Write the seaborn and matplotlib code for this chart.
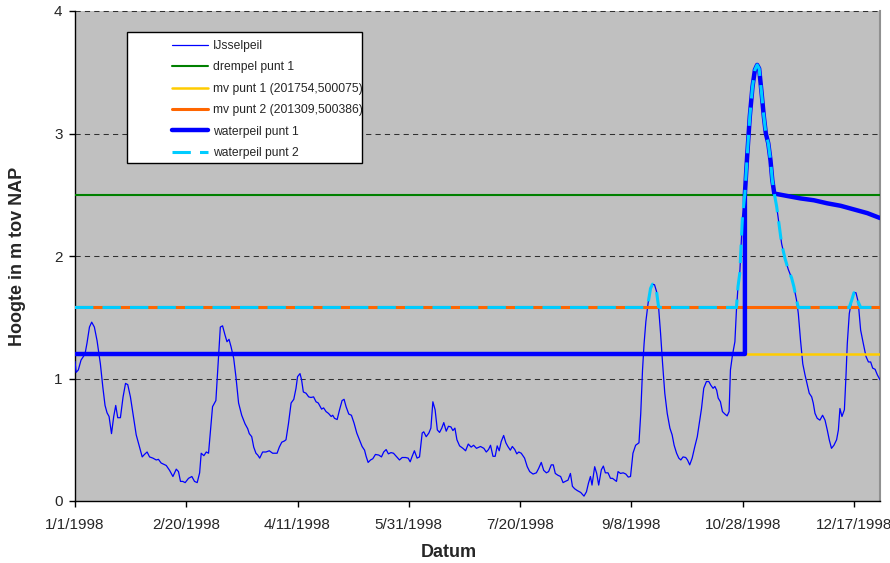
import matplotlib
matplotlib.use('Agg')
import matplotlib.pyplot as plt
from matplotlib.patches import Rectangle
import numpy as np
import seaborn as sns
import pandas as pd

# IJsselpeil (day of 1998, m tov NAP)
ijssel_day = [0, 0.5, 1.5, 2.7, 4.5, 5.4, 6.5, 7.5, 8.7, 9.9, 11.4, 12.5, 13.5, 14.4, 15.3, 16.4, 17.4, 18.3,
              19.2, 20.4, 21.6, 22.7, 23.7, 24.9, 26, 27.5, 29, 30.2, 31.2, 32.4, 33.5, 35, 36.5, 37.5, 38.7,
              41, 42.5, 44, 45.5, 46.5, 47.4, 48.4, 49.5, 51, 52.5, 53.7, 54.9, 56, 56.7, 57.9, 59, 60,
              61.8, 63.3, 64.4, 65.3, 66.3, 67.4, 68.3, 69.2, 70.1, 71.3, 72.3, 73.5, 74.9, 76.4, 77.6, 78.3,
              79.4, 80.3, 81.3, 82.1, 83, 84.3, 85.8, 87.3, 88.8, 90.8, 91.8, 92.9, 94.1, 94.8, 95.9, 97.1,
              98.3, 99.3, 100, 101.1, 101.8, 102.6, 103.8, 105, 106, 107.2, 108.3, 109.3, 110.8, 111.7, 112.8,
              113.9, 115.1, 115.8, 116.6, 117.8, 118.8, 120, 120.9, 121.8, 123, 124.2, 125.4, 126.6, 127.8,
              129, 130.1, 130.8, 131.7, 132.8, 133.8, 135, 136.5, 137.7, 138.7, 139.8, 140.8, 142, 143.1,
              144.3, 145.8, 147, 148.5, 149.7, 150.6, 151.5, 152.5, 153.7, 154.8, 156, 156.7, 157.8, 159,
              159.9, 160.8, 161.8, 162.8, 163.8, 164.8, 165.7, 166.8, 167.8, 168.9, 169.8, 170.7, 171.6,
              172.8, 174.3, 175.5, 176.7, 178, 179.1, 180.4, 182.2, 183.7, 184.8, 185.8, 186.7, 187.8, 188.8,
              189.7, 190.6, 191.5, 192.6, 193.6, 194.5, 195.6, 196.5, 197.6, 198.5, 199.4, 200.5, 202, 203.2,
              204.3, 205.8, 207.3, 208.3, 209.5, 210.6, 211.8, 212.8, 214, 214.9, 215.8, 217, 218.2, 219.3,
              220.3, 221.5, 222.6, 223.5, 224.5, 225.7, 227.2, 228.7, 229.8, 230.7, 231.6, 232.3, 233.5,
              234.4, 235.3, 236.5, 237.4, 238.3, 239.5, 240.6, 241.5, 243.3, 244, 245.1, 246.3, 247.5, 248.6,
              249.6, 250.7, 251.9, 253.4, 254.2, 255, 255.7, 256.5, 257.5, 258.6, 259.5, 260.4, 261.3, 262.2,
              263.1, 264, 265, 266.1, 267.3, 268.3, 269.2, 270.3, 271.3, 272.2, 273.2, 274.4, 275.2, 276.2,
              277.3, 278.5, 279.6, 280.4, 281.5, 282.5, 283.7, 284.8, 285.7, 286.7, 287.5, 288.3, 289, 290,
              290.9, 292, 293, 293.9, 294.5, 295.4, 296.5, 297.2, 297.9, 298.7, 299.9, 301, 302, 303.2,
              304.4, 305.5, 306.5, 307.4, 308.5, 309.5, 310.4, 311.5, 312.5, 313.3, 314.2, 315.3, 316.5,
              317.5, 319, 320.5, 322, 323, 324.2, 325, 326, 327, 328, 329, 329.9, 331, 331.7, 332.5, 333.5,
              334.7, 335.9, 337, 338, 338.9, 339.9, 341, 342.2, 343, 343.7, 344.6, 345.7, 346.4, 347, 347.9,
              349, 350, 350.9, 351.9, 353, 354.2, 355.4, 356.5, 357.5, 358.4, 359.5, 360.5, 361.4, 361.7]
ijssel_val = [1.14, 1.05, 1.07, 1.15, 1.2, 1.29, 1.42, 1.46, 1.42, 1.31, 1.12, 0.93, 0.78, 0.72, 0.69, 0.55, 0.69, 0.78,
              0.68, 0.68, 0.85, 0.96, 0.95, 0.85, 0.72, 0.54, 0.44, 0.36, 0.38, 0.40, 0.36, 0.35, 0.335, 0.34, 0.31,
              0.29, 0.25, 0.20, 0.26, 0.24, 0.16, 0.16, 0.15, 0.185, 0.20, 0.16, 0.15, 0.23, 0.39, 0.37, 0.40, 0.39,
              0.77, 0.82, 1.15, 1.42, 1.43, 1.355, 1.30, 1.32, 1.26, 1.165, 1.015, 0.80, 0.70, 0.63, 0.59, 0.55,
              0.525, 0.44, 0.39, 0.375, 0.35, 0.40, 0.40, 0.41, 0.39, 0.39, 0.44, 0.48, 0.49, 0.50, 0.63, 0.80,
              0.83, 0.92, 1.015, 1.04, 0.99, 0.89, 0.88, 0.85, 0.845, 0.85, 0.81, 0.80, 0.75, 0.76, 0.73,
              0.715, 0.69, 0.70, 0.675, 0.665, 0.74, 0.82, 0.83, 0.77, 0.71, 0.70, 0.635, 0.555, 0.50,
              0.445, 0.415, 0.365, 0.315, 0.335, 0.345, 0.38, 0.375, 0.36, 0.40, 0.42, 0.385, 0.395, 0.39,
              0.365, 0.335, 0.355, 0.355, 0.35, 0.32, 0.365, 0.41, 0.35, 0.36, 0.555, 0.565, 0.525, 0.555,
              0.595, 0.81, 0.745, 0.58, 0.56, 0.595, 0.64, 0.57, 0.61, 0.605, 0.575, 0.595, 0.50,
              0.45, 0.43, 0.41, 0.465, 0.44, 0.455, 0.43, 0.445, 0.43, 0.40, 0.42, 0.455, 0.365, 0.365,
              0.45, 0.41, 0.485, 0.535, 0.475, 0.445, 0.415, 0.445, 0.42, 0.385, 0.40, 0.39, 0.35, 0.28,
              0.24, 0.22, 0.23, 0.265, 0.315, 0.25, 0.23, 0.24, 0.295, 0.295, 0.225, 0.21, 0.20, 0.15,
              0.16, 0.17, 0.225, 0.12, 0.10, 0.085, 0.07, 0.04, 0.075, 0.145, 0.20, 0.13, 0.28,
              0.225, 0.13, 0.255, 0.285, 0.23, 0.23, 0.185, 0.185, 0.16, 0.24, 0.225, 0.23, 0.22, 0.195,
              0.20, 0.39, 0.455, 0.475, 0.715, 1.07, 1.285, 1.465, 1.615, 1.735, 1.77, 1.765, 1.71, 1.585,
              1.37, 1.125, 0.88, 0.715, 0.595, 0.54, 0.455, 0.39, 0.35, 0.335, 0.36, 0.355, 0.335, 0.295,
              0.35, 0.445, 0.525, 0.62, 0.755, 0.92, 0.975, 0.975, 0.945, 0.92, 0.935, 0.905, 0.84, 0.81,
              0.73, 0.71, 0.695, 0.73, 1.07, 1.19, 1.30, 1.56, 1.75, 1.86, 2.32, 2.51, 2.81, 3.14,
              3.38, 3.52, 3.56, 3.53, 3.33, 3.14, 3.0, 2.92, 2.78, 2.62, 2.51, 2.40, 2.24,
              2.10, 1.98, 1.89, 1.82, 1.75, 1.64, 1.53, 1.31, 1.12, 1.03, 0.95, 0.88, 0.85, 0.80, 0.715, 0.675,
              0.66, 0.70, 0.66, 0.58, 0.50, 0.43, 0.455, 0.50, 0.58, 0.755, 0.69, 0.745, 1.015, 1.285, 1.53,
              1.64, 1.70, 1.70, 1.625, 1.395, 1.285, 1.18, 1.135, 1.135, 1.085, 1.075, 1.03, 1.0, 0.99]

# constant levels
drempel_1 = 2.5
mv_punt_1 = 1.2
mv_punt_2 = 1.58

# waterpeil punt 1: flat, jumps onto the river peak, then slow decline
wp1_day_start = [0, 301, 301]
wp1_val_start = [1.2, 1.2, 2.51]
wp1_tail_day = [314.2, 320, 326, 332, 338, 344, 350, 356, 361.7]
wp1_tail_val = [2.51, 2.49, 2.47, 2.455, 2.43, 2.41, 2.38, 2.35, 2.31]

tick_days = [0, 50, 100, 150, 200, 250, 300, 350]
tick_labels = ['1/1/1998', '2/20/1998', '4/11/1998', '5/31/1998', '7/20/1998',
               '9/8/1998', '10/28/1998', '12/17/1998']
x_end = 361.7

day = np.array(ijssel_day)
val = np.array(ijssel_val)
peak = (day > 301) & (day < 314.2)
wp1_day = wp1_day_start + list(day[peak]) + wp1_tail_day
wp1_val = wp1_val_start + list(val[peak]) + wp1_tail_val
wp2_val = np.maximum(val, mv_punt_2)

sns.set_style('white', {'axes.facecolor': '#C0C0C0'})
plt.rcParams['font.family'] = ['Liberation Sans', 'DejaVu Sans']

fig = plt.figure(figsize=(8.9, 5.63), dpi=100)
ax = fig.add_axes([75 / 890, 62 / 563, 805 / 890, 490 / 563])

kw = dict(ax=ax, estimator=None, sort=False)
sns.lineplot(x=day, y=val, color='#0000FF', linewidth=0.9, label='IJsselpeil', zorder=3, **kw)
sns.lineplot(x=[0, x_end], y=[drempel_1] * 2, color='#008000', linewidth=1.5,
             label='drempel punt 1', zorder=3, **kw)
sns.lineplot(x=[0, x_end], y=[mv_punt_1] * 2, color='#FFCC00', linewidth=1.8,
             label='mv punt 1 (201754,500075)', zorder=3, **kw)
sns.lineplot(x=[0, x_end], y=[mv_punt_2] * 2, color='#FF6600', linewidth=2.2,
             label='mv punt 2 (201309,500386)', zorder=3, **kw)
sns.lineplot(x=wp1_day, y=wp1_val, color='#0000FF', linewidth=3.2,
             label='waterpeil punt 1', zorder=3, **kw)
sns.lineplot(x=day, y=wp2_val, color='#00CCFF', linewidth=2.2, linestyle=(0, (6, 3)),
             label='waterpeil punt 2', zorder=3, **kw)

ax.set_xlim(0, x_end)
ax.set_ylim(0, 4)
ax.set_yticks([0, 1, 2, 3, 4])
ax.set_xticks(tick_days)
ax.set_xticklabels(tick_labels)
for yv in [1, 2, 3, 4]:
    ax.axhline(yv, color='#303030', linewidth=0.75, linestyle=(0, (5, 4)), zorder=1, clip_on=False)

for s in ['left', 'bottom']:
    ax.spines[s].set_color('black')
    ax.spines[s].set_linewidth(1.0)
ax.spines['top'].set_visible(False)
ax.spines['right'].set_color('#909090')
ax.spines['right'].set_linewidth(1.5)
ax.tick_params(axis='both', direction='out', length=4, width=1, color='black',
               labelsize=11, left=True, bottom=True)
ax.tick_params(axis='x', pad=8)
ax.tick_params(axis='y', pad=5)

ax.set_xlabel('Datum', fontsize=13, fontweight='bold')
ax.set_ylabel('Hoogte in m tov NAP', fontsize=13, fontweight='bold')
ax.xaxis.set_label_coords(0.4646, -0.088)
ax.yaxis.set_label_coords(-0.061, 0.5)

# legend: white box with the entries set in from the left
ax.add_patch(Rectangle((0.0646, 0.690), 0.2919, 0.267, transform=ax.transAxes,
                       facecolor='white', edgecolor='black', linewidth=1.0, zorder=4))
ax.legend(loc='upper left', bbox_to_anchor=(0.1205, 0.941), frameon=False, fontsize=8.7,
          borderpad=0, borderaxespad=0, handlelength=3.0, handletextpad=0.4, labelspacing=0.78)

fig.savefig('out.png', dpi=100)
